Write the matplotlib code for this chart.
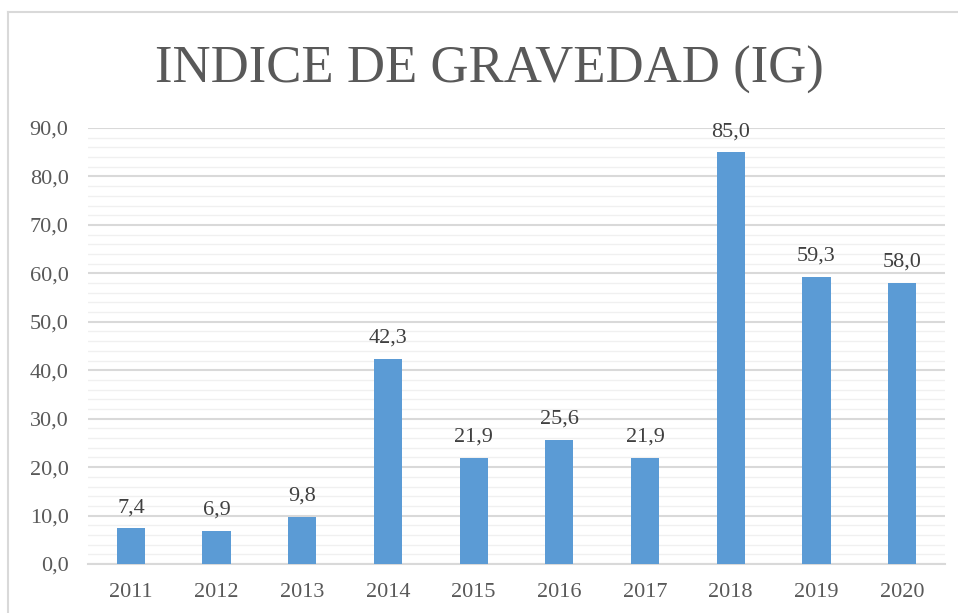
import matplotlib.pyplot as plt
from matplotlib.lines import Line2D
from matplotlib.ticker import MultipleLocator, FuncFormatter

years = ['2011', '2012', '2013', '2014', '2015', '2016', '2017', '2018', '2019', '2020']
ig = [7.4, 6.9, 9.8, 42.3, 21.9, 25.6, 21.9, 85.0, 59.3, 58.0]

plt.rcParams['font.family'] = ['Liberation Serif', 'DejaVu Serif']

fig = plt.figure(figsize=(9.58, 6.13), dpi=100)
ax = fig.add_axes([0.0919, 0.0799, 0.8945, 0.7113])

x = range(len(years))
ax.bar(x, ig, width=0.33, color='#5b9bd5', zorder=3)
for i, v in zip(x, ig):
    ax.annotate(f'{v:.1f}'.replace('.', ','), (i, v), xytext=(0, 8), textcoords='offset points',
                ha='center', va='bottom', fontsize=16, color='#404040', zorder=4)

ax.set_xlim(-0.5, len(years) - 0.5)
ax.set_ylim(0, 90)
ax.set_xticks(list(x))
ax.set_xticklabels(years)
ax.yaxis.set_major_locator(MultipleLocator(10))
ax.yaxis.set_minor_locator(MultipleLocator(2))
ax.yaxis.set_major_formatter(FuncFormatter(lambda v, p: f'{v:.1f}'.replace('.', ',')))
ax.grid(axis='y', which='major', color='#d9d9d9', lw=1.5, zorder=0)
ax.grid(axis='y', which='minor', color='#f0f0f0', lw=1.0, zorder=0)
ax.tick_params(axis='both', which='both', length=0, labelsize=16, colors='#595959')
ax.tick_params(axis='y', pad=14)
ax.tick_params(axis='x', pad=14)
for s in ['top', 'right', 'left']:
    ax.spines[s].set_visible(False)
ax.spines['bottom'].set_color('#d9d9d9')
ax.spines['bottom'].set_linewidth(1.5)

fig.text(0.511, 0.886, 'INDICE DE GRAVEDAD (IG)', ha='center', va='center',
         fontsize=38, color='#595959')

# chart frame
fig.add_artist(Line2D([8 / 958, 8 / 958], [0, 1 - 12 / 613], transform=fig.transFigure,
                      color='#d9d9d9', lw=1.5))
fig.add_artist(Line2D([8 / 958, 1], [1 - 12 / 613, 1 - 12 / 613], transform=fig.transFigure,
                      color='#d9d9d9', lw=1.5))

fig.savefig('out.png', dpi=100)
